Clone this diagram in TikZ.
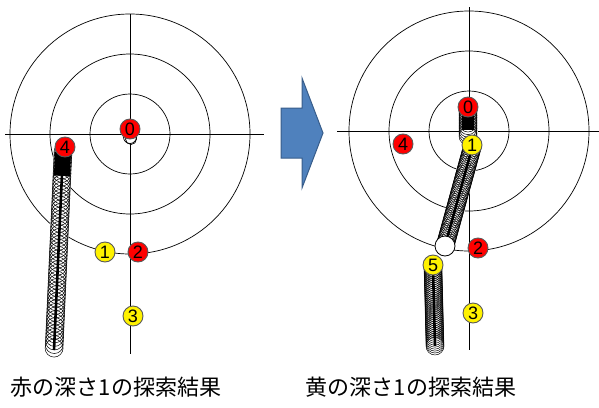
\documentclass[tikz,border=0pt]{standalone}
\usepackage{fontspec}
\setmainfont{Liberation Sans}
\newfontfamily\cjk{Noto Sans CJK JP}
\usetikzlibrary{calc}
\definecolor{arrowfill}{RGB}{79,129,189}
\definecolor{arrowline}{RGB}{56,93,138}
\begin{document}
\begin{tikzpicture}[x=1pt,y=-1pt,
  ring/.style={draw=black, line width=0.7pt},
  axis/.style={draw=black, line width=0.7pt},
  basenode/.style={circle, draw=black!65, line width=0.9pt, minimum size=20pt, inner sep=0pt, font=\fontsize{18}{18}\selectfont},
  rednode/.style={basenode, fill=red},
  yellownode/.style={basenode, fill=yellow},
  tubecircle/.style={draw=black, line width=0.5pt},
  tubebase/.style={draw=white, line width=19pt},
  tubecore/.style={draw=black, line width=2.6pt},
  tubedense/.style={draw=black, line width=16pt},
  caption/.style={font=\cjk\fontsize{22}{22}\selectfont, inner sep=0pt}
]
\useasboundingbox (0,0) rectangle (599,407);

% ---------- left panel ----------
\coordinate (LC) at (130,134);
\foreach \r in {40,80,120} \draw[ring] (LC) circle[radius=\r pt];
\coordinate (LHa) at (5,134); \coordinate (LHb) at (264,134);
\coordinate (LVa) at (130,14); \coordinate (LVb) at (130,354);
\draw[axis] (LHa) -- (LHb);
\draw[axis] (LVa) -- (LVb);

% small trace under node 0
\draw[tubecircle, line width=0.7pt, fill=white] (130,137) circle[radius=6.5pt];
\draw[tubecircle, line width=0.7pt] (131,139) circle[radius=5.5pt];

% trajectory from node 4
\coordinate (LTa) at (63,152); \coordinate (LTb) at (54,350);
\draw[tubebase] (LTa) -- (LTb);
\foreach \t in {0,0.018,...,1.001} \draw[tubecircle] ($(LTa)!\t!(LTb)$) circle[radius=9pt];
\draw[tubecore] (LTa) -- (LTb);
\coordinate (LTd) at ($(LTa)!0.12!(LTb)$);
\draw[tubedense] (LTa) -- (LTd);

\node[rednode] (l0) at (130,129) {0};
\node[rednode] (l4) at (65,147) {4};
\node[yellownode] (l1) at (105,252) {1};
\node[rednode] (l2) at (138,252) {2};
\node[yellownode] (l3) at (133,316) {3};

% ---------- arrow ----------
\draw[fill=arrowfill, draw=arrowline, line width=1pt, line join=miter]
  (281,108) -- (302,108) -- (302,78) -- (323,133) -- (302,188) -- (302,158) -- (281,158) -- cycle;

% ---------- right panel ----------
\coordinate (RC) at (469,131);
\foreach \r in {40,80,120} \draw[ring] (RC) circle[radius=\r pt];
\coordinate (RHa) at (337,131); \coordinate (RHb) at (599,131);
\coordinate (RVa) at (469,7); \coordinate (RVb) at (469,350);
\draw[axis] (RHa) -- (RHb);
\draw[axis] (RVa) -- (RVb);

% short trace from node 0
\coordinate (RAa) at (468,110); \coordinate (RAb) at (468,136);
\draw[tubebase] (RAa) -- (RAb);
\foreach \t in {0,0.1,...,1.001} \draw[tubecircle] ($(RAa)!\t!(RAb)$) circle[radius=9pt];
\draw[draw=black, line width=12pt] (468,112) -- (468,130);

% trace from node 1
\coordinate (RBa) at (472,148); \coordinate (RBb) at (445,246);
\draw[tubebase] (RBa) -- (RBb);
\foreach \t in {0,0.022,...,1.001} \draw[tubecircle] ($(RBa)!\t!(RBb)$) circle[radius=9pt];
\draw[tubecore] (RBa) -- ($(RBa)!0.95!(RBb)$);
\draw[tubecircle, line width=0.8pt, fill=white] (RBb) circle[radius=10pt];

% trace from node 5
\coordinate (RCa) at (433,268); \coordinate (RCb) at (435,346);
\draw[tubebase] (RCa) -- (RCb);
\foreach \t in {0,0.025,...,1.001} \draw[tubecircle] ($(RCa)!\t!(RCb)$) circle[radius=9pt];
\draw[tubecore] (RCa) -- (RCb);

\node[rednode] (r0) at (468,107) {0};
\node[yellownode] (r1) at (472,145) {1};
\node[rednode] (r4) at (403,144) {4};
\node[rednode] (r2) at (478,248) {2};
\node[yellownode] (r5) at (433,265) {5};
\node[yellownode] (r3) at (473,313) {3};

% ---------- captions ----------
\node[caption] (capL) at (116,387) {赤の深さ1の探索結果};
\node[caption] (capR) at (411,387) {黄の深さ1の探索結果};
\end{tikzpicture}
\end{document}
